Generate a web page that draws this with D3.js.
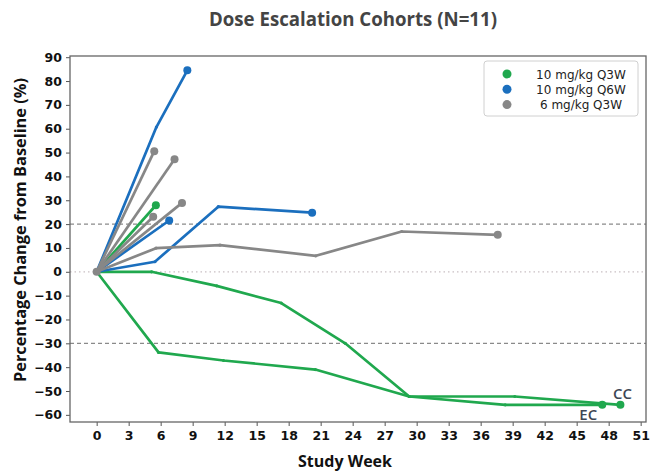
<!DOCTYPE html>
<html>
<head>
<meta charset="utf-8">
<script src="https://cdn.jsdelivr.net/npm/d3@7"></script>
<style>
  body { margin: 0; background: #fff; }
  svg { display: block; }
</style>
</head>
<body>
<svg id="chart"></svg>
<script>
// cohorts shown in the legend
const cohorts = ["10 mg/kg Q3W", "10 mg/kg Q6W", "6 mg/kg Q3W"];

// one inner array per patient: study week and % change from baseline
const q3w10Weeks = [
  [0, 5.55],
  [0, 5.15, 11.25, 17.3, 23.3, 29.3, 39.2, 49.1],
  [0, 5.8, 11.9, 20.5, 29.3, 38.3, 47.4]
];
const q3w10Pct = [
  [0, 27.9],
  [0, 0, -5.9, -13.1, -30, -52.3, -52.3, -55.8],
  [0, -33.8, -37.2, -41, -52.3, -55.8, -55.8]
];
const q6w10Weeks = [
  [0, 5.6, 8.5],
  [0, 6.8],
  [0, 5.46, 11.4, 20.2]
];
const q6w10Pct = [
  [0, 60.7, 84.5],
  [0, 21.5],
  [0, 4.2, 27.3, 24.8]
];
const q3w6Weeks = [
  [0, 5.4],
  [0, 7.3],
  [0, 8.0],
  [0, 5.3],
  [0, 5.56, 11.56, 20.55, 28.6, 37.6]
];
const q3w6Pct = [
  [0, 50.6],
  [0, 47.2],
  [0, 28.9],
  [0, 23.1],
  [0, 9.9, 11.2, 6.7, 16.9, 15.5]
];

// end-of-line annotations (green cohort, patient index -> label)
const endLabels = [null, "CC", "EC"];

const xTicks = [0, 3, 6, 9, 12, 15, 18, 21, 24, 27, 30, 33, 36, 39, 42, 45, 48, 51];
const yTicks = [90, 80, 70, 60, 50, 40, 30, 20, 10, 0, -10, -20, -30, -40, -50, -60];
const refLines = [20, -30];

const colors = ["#20a84e", "#1b6fbe", "#878787"];

const width = 651;
const height = 473;
const margin = { top: 56, right: 5, bottom: 51, left: 70 };

const svg = d3.select("#chart")
  .attr("width", width)
  .attr("height", height);

const x = d3.scaleLinear()
  .domain([-2.5, 51.5])
  .range([margin.left, width - margin.right]);

const y = d3.scaleLinear()
  .domain([-63, 90.5])
  .range([height - margin.bottom, margin.top]);

// title
svg.append("text")
  .attr("x", 353)
  .attr("y", 26)
  .attr("text-anchor", "middle")
  .attr("font-family", "Open Sans, sans-serif")
  .attr("font-weight", 700)
  .attr("font-size", 19)
  .attr("fill", "#444")
  .attr("textLength", 288)
  .attr("lengthAdjust", "spacingAndGlyphs")
  .text("Dose Escalation Cohorts (N=11)");

// reference lines
svg.selectAll(".ref")
  .data(refLines)
  .enter()
  .append("line")
  .attr("x1", x.range()[0])
  .attr("x2", x.range()[1])
  .attr("y1", d => y(d))
  .attr("y2", d => y(d))
  .attr("stroke", "#8a8a8a")
  .attr("stroke-width", 1.2)
  .attr("stroke-dasharray", "4,3");

svg.append("line")
  .attr("x1", x.range()[0])
  .attr("x2", x.range()[1])
  .attr("y1", y(0))
  .attr("y2", y(0))
  .attr("stroke", "#c9c0c4")
  .attr("stroke-width", 1.2)
  .attr("stroke-dasharray", "1.5,3");

// axes
const xAxis = svg.append("g")
  .attr("transform", `translate(0,${height - margin.bottom})`)
  .call(d3.axisBottom(x).tickValues(xTicks).tickSize(4).tickPadding(5).tickFormat(d3.format("d")));

const yAxis = svg.append("g")
  .attr("transform", `translate(${margin.left},0)`)
  .call(d3.axisLeft(y).tickValues(yTicks).tickSize(4).tickPadding(4).tickFormat(d3.format("d")));

[xAxis, yAxis].forEach(a => {
  a.select(".domain").remove();
  a.selectAll(".tick line").attr("stroke", "#555");
  a.selectAll(".tick text")
    .attr("font-family", "DejaVu Sans, sans-serif")
    .attr("font-weight", "bold")
    .attr("font-size", 12.5)
    .attr("fill", "#111");
});

// frame
svg.append("rect")
  .attr("x", margin.left)
  .attr("y", margin.top)
  .attr("width", width - margin.left - margin.right)
  .attr("height", height - margin.top - margin.bottom)
  .attr("fill", "none")
  .attr("stroke", "#666")
  .attr("stroke-width", 1.3);

// axis labels
svg.append("text")
  .attr("x", 345)
  .attr("y", 467)
  .attr("text-anchor", "middle")
  .attr("font-family", "Open Sans, sans-serif")
  .attr("font-weight", 700)
  .attr("font-size", 16)
  .attr("fill", "#111")
  .text("Study Week");

svg.append("text")
  .attr("transform", "translate(26,230) rotate(-90)")
  .attr("text-anchor", "middle")
  .attr("font-family", "Open Sans, sans-serif")
  .attr("font-weight", 700)
  .attr("font-size", 16)
  .attr("fill", "#111")
  .attr("textLength", 304)
  .attr("lengthAdjust", "spacingAndGlyphs")
  .text("Percentage Change from Baseline (%)");

// patient lines
const groups = [
  { weeks: q3w10Weeks, pct: q3w10Pct },
  { weeks: q6w10Weeks, pct: q6w10Pct },
  { weeks: q3w6Weeks, pct: q3w6Pct }
];

const line = d3.line()
  .x(d => x(d[0]))
  .y(d => y(d[1]));

const plot = svg.append("g");

groups.forEach((grp, gi) => {
  grp.weeks.forEach((wk, pi) => {
    const pts = wk.map((w, i) => [w, grp.pct[pi][i]]);

    plot.append("path")
      .datum(pts)
      .attr("fill", "none")
      .attr("stroke", colors[gi])
      .attr("stroke-width", 2.7)
      .attr("stroke-linejoin", "round")
      .attr("d", line);

    // small markers on visits
    plot.selectAll(null)
      .data(pts.slice(1, -1))
      .enter()
      .append("circle")
      .attr("cx", d => x(d[0]))
      .attr("cy", d => y(d[1]))
      .attr("r", 1.6)
      .attr("fill", colors[gi]);

    // last visit dot
    const last = pts[pts.length - 1];
    plot.append("circle")
      .attr("cx", x(last[0]))
      .attr("cy", y(last[1]))
      .attr("r", 4)
      .attr("fill", colors[gi]);

    if (gi === 0 && endLabels[pi]) {
      const isCC = endLabels[pi] === "CC";
      plot.append("text")
        .attr("x", x(last[0]) + (isCC ? 2 : -14))
        .attr("y", y(last[1]) + (isCC ? -6 : 15.5))
        .attr("text-anchor", "middle")
        .attr("font-family", "Open Sans, sans-serif")
        .attr("font-weight", 600)
        .attr("font-size", 15)
        .attr("fill", "#3d4654")
        .text(endLabels[pi]);
    }
  });
});

// baseline dot
plot.append("circle")
  .attr("cx", x(0))
  .attr("cy", y(0))
  .attr("r", 4)
  .attr("fill", colors[2]);

// legend
const legend = svg.append("g");
legend.append("rect")
  .attr("x", 484)
  .attr("y", 61)
  .attr("width", 154)
  .attr("height", 55)
  .attr("rx", 3)
  .attr("fill", "#fff")
  .attr("stroke", "#d0d0d0");

const legendRows = legend.selectAll(".row")
  .data(cohorts)
  .enter()
  .append("g")
  .attr("transform", (d, i) => `translate(0,${74 + i * 15.3})`);

legendRows.append("circle")
  .attr("cx", 507)
  .attr("cy", 0)
  .attr("r", 4.5)
  .attr("fill", (d, i) => colors[i]);

legendRows.append("text")
  .attr("x", 581)
  .attr("y", 4.5)
  .attr("text-anchor", "middle")
  .attr("font-family", "DejaVu Sans, sans-serif")
  .attr("font-size", 12)
  .attr("fill", "#222")
  .text(d => d);
</script>
</body>
</html>
